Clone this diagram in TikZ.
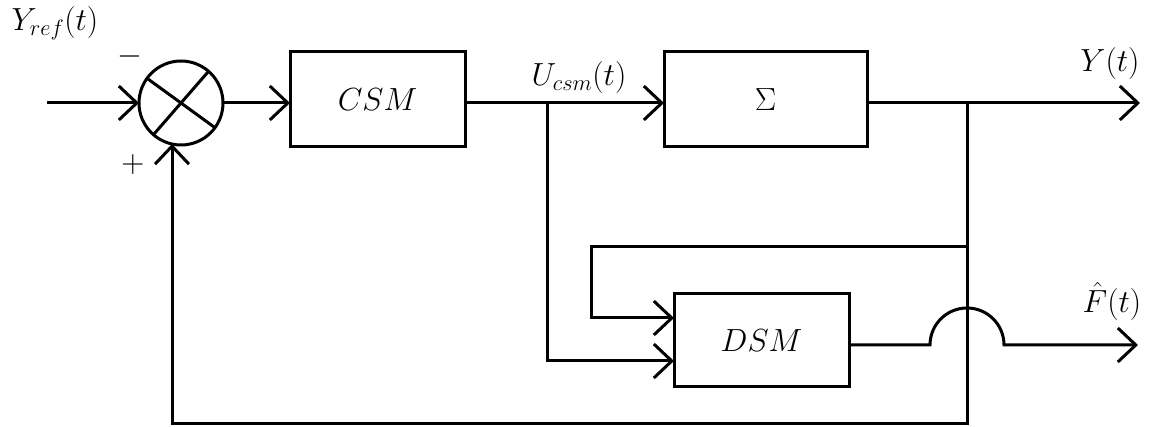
\RequirePackage{fix-cm}
\documentclass[tikz,border=0pt]{standalone}
\usetikzlibrary{arrows.meta}
\begin{document}
\begin{tikzpicture}[x=1pt,y=-1pt,line width=3pt,
  blk/.style={draw,rectangle,inner sep=0pt,outer sep=0pt,font=\fontsize{32}{38}\selectfont},
  lbl/.style={font=\fontsize{32}{38}\selectfont,inner sep=0pt},
  arr/.style={-{Straight Barb[length=18pt,width=34pt]}}]
\useasboundingbox (0,0) rectangle (1149,427);
% blocks
\node[circle,draw,minimum size=84pt,inner sep=0pt,outer sep=0pt] (sum) at (181,103) {};
\draw (sum.144) -- (sum.-36);
\draw (sum.49) -- (sum.229);
\node[blk,minimum width=175pt,minimum height=95pt] (csm) at (377.5,99.5) {$CSM$};
\node[blk,minimum width=203pt,minimum height=95pt] (sigma) at (765.5,99.5) {$\Sigma$};
\node[blk,minimum width=175pt,minimum height=93pt] (dsm) at (761.5,340.5) {$DSM$};
% coordinates
\coordinate (in) at (47,103);
\coordinate (br1) at (547,103);
\coordinate (br2) at (967,103);
\coordinate (br3) at (967,247);
\coordinate (yout) at (1140,103);
\coordinate (fbb) at (967,424);
\coordinate (fbin) at (172,144);
\coordinate (lp) at (591,247);
\coordinate (d1y) at (0,318);
\coordinate (d2y) at (0,361);
\coordinate (fy) at (0,345);
\coordinate (jl) at (930,345);
\coordinate (fout) at (1138,345);
% connectors
\draw[arr] (in) -- (sum.west);
\draw[arr] (sum.east) -- (csm.west |- sum);
\draw[arr] (csm.east |- sum) -- (sigma.west |- sum);
\draw[arr] (sigma.east |- sum) -- (yout);
\draw[arr] (br2) -- (fbb) -| (fbin);
\draw[arr] (br3) -- (lp) |- (dsm.west |- d1y);
\draw[arr] (br1) |- (dsm.west |- d2y);
\draw[arr] (dsm.east |- fy) -- (jl) arc[start angle=180,end angle=0,radius=37pt] -- (fout);
% labels
\node[lbl] (yref) at (55,23) {$Y_{ref}(t)$};
\node[lbl] (minus) at (130,57) {$-$};
\node[lbl] (plus) at (133,165) {$+$};
\node[lbl] (ucsm) at (579,78) {$U_{csm}(t)$};
\node[lbl] (yt) at (1110,64) {$Y(t)$};
\node[lbl] (ft) at (1112,301) {$\hat F(t)$};
\end{tikzpicture}
\end{document}
